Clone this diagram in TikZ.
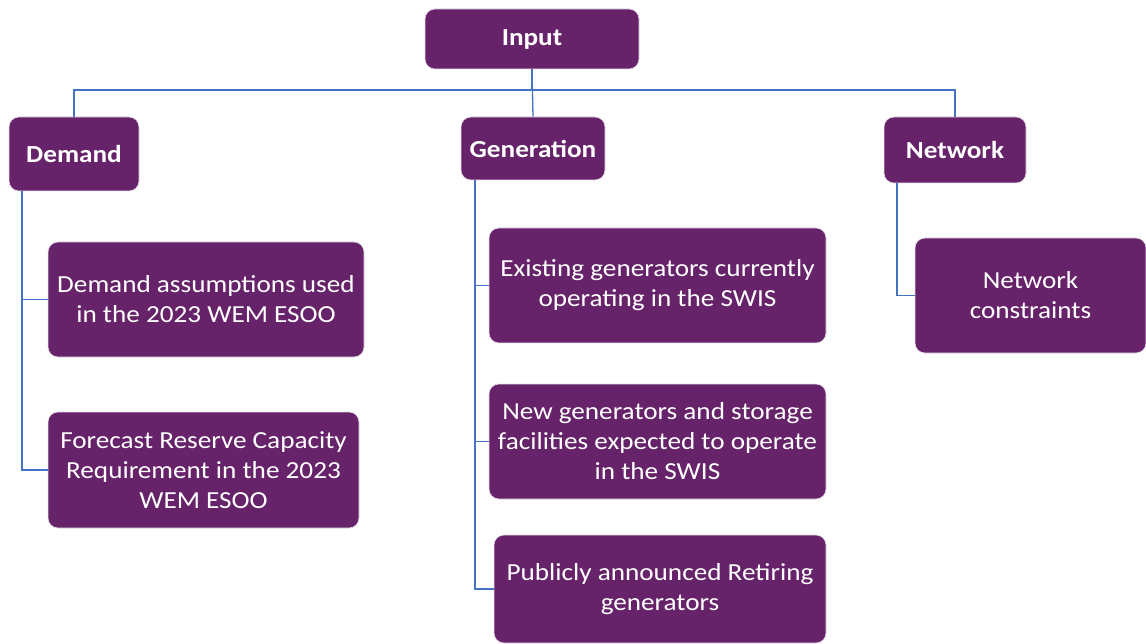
\documentclass[tikz,border=0pt]{standalone}
\usepackage{fontspec}
\setmainfont{Carlito}[FakeStretch=1.11]
\definecolor{boxpurple}{RGB}{102,35,106}
\definecolor{linkblue}{RGB}{68,114,196}
\begin{document}
\begin{tikzpicture}[x=1pt,y=-1pt,
  box/.style={draw=white!85!boxpurple, line width=0.6pt, fill=boxpurple, rounded corners=10pt, text=white, align=center, inner sep=0pt,
    font=\fontsize{24.5}{30}\selectfont},
  head/.style={box, font=\fontsize{24.5}{30}\selectfont\bfseries},
  link/.style={draw=linkblue, line width=1.3pt}]
\useasboundingbox (0,0) rectangle (1146,644);
\node[head, minimum width=214pt, minimum height=60pt] (input) at (532,39) {Input};
\node[head, minimum width=130pt, minimum height=74pt] (demand) at (74,154) {Demand};
\node[head, minimum width=144pt, minimum height=63pt] (gen) at (533,148.5) {Generation};
\node[head, minimum width=142pt, minimum height=66pt] (net) at (955,150) {Network};
\node[box, minimum width=316pt, minimum height=115pt] (da) at (206,299.5) {Demand assumptions used\\in the 2023 WEM ESOO};
\node[box, minimum width=311pt, minimum height=116pt] (fr) at (203.5,470) {Forecast Reserve Capacity\\Requirement in the 2023\\WEM ESOO};
\node[box, minimum width=337pt, minimum height=115pt] (eg) at (657.5,285.5) {Existing generators currently\\operating in the SWIS};
\node[box, minimum width=337pt, minimum height=115pt] (ng) at (657.5,441.5) {New generators and storage\\facilities expected to operate\\in the SWIS};
\node[box, minimum width=332pt, minimum height=108pt] (pr) at (660,589) {Publicly announced Retiring\\generators};
\node[box, minimum width=231pt, minimum height=115pt] (nc) at (1030.5,295.5) {Network\\constraints};
% top level connectors
\coordinate (bus) at (532,90);
\draw[link] (input.south) -- (bus);
\draw[link] (demand.north) |- (bus);
\draw[link] (net.north) |- (bus);
\draw[link] (input.south) -- (gen.north);
% demand children
\draw[link] (demand.south -| 22,0) |- (da.west);
\draw[link] (demand.south -| 22,0) |- (fr.west);
% generation children
\draw[link] (gen.south -| 475,0) |- (eg.west);
\draw[link] (gen.south -| 475,0) |- (ng.west);
\draw[link] (gen.south -| 475,0) |- (pr.west);
% network children
\draw[link] (net.south -| 897,0) |- (nc.west);
\end{tikzpicture}
\end{document}
